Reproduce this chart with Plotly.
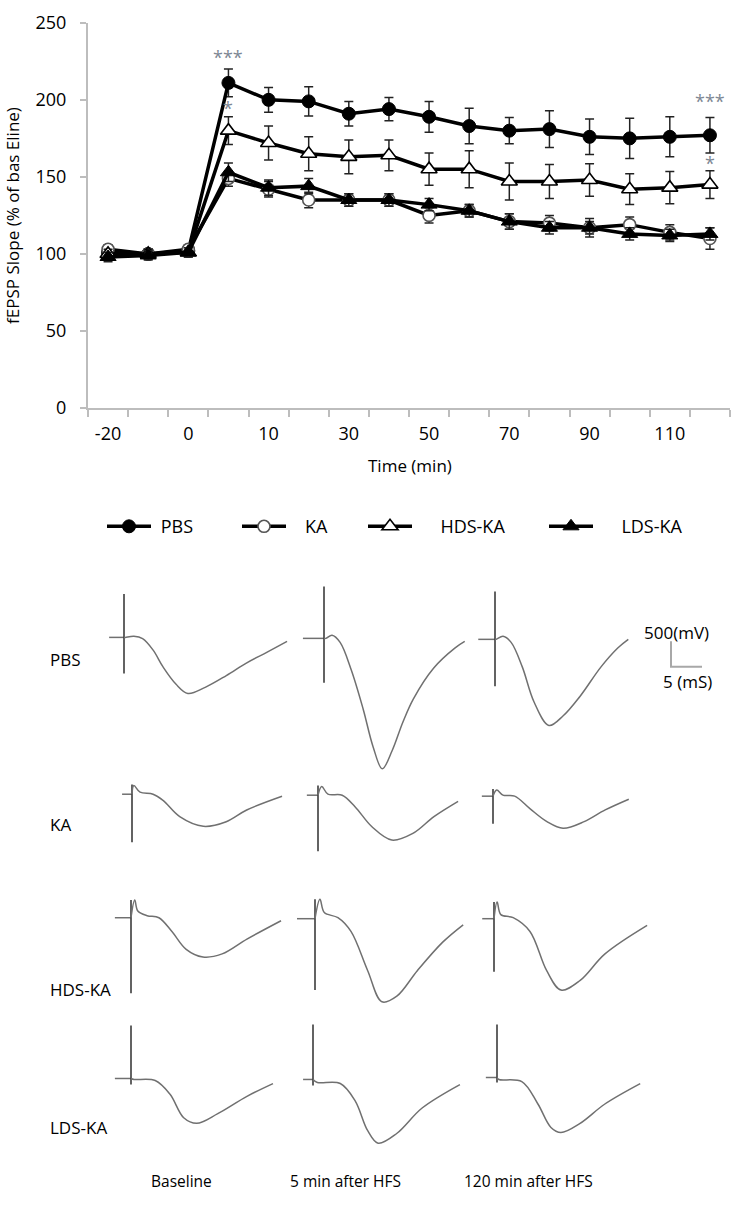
import plotly.graph_objects as go

W, H = 733, 1212
FONT = "Open Sans"

# ---------------- LTP time course (top panel) ----------------
time_labels = ["-20", "-10", "0", "5", "10", "20", "30", "40", "50", "60",
               "70", "80", "90", "100", "110", "120"]
pbs_mean = [101, 100, 102, 211, 200, 199, 191, 194, 189, 183, 180, 181, 176, 175, 176, 177]
pbs_sem = [3, 3, 3, 9, 8, 9.5, 8, 7.5, 10, 11.5, 8.5, 12, 11.5, 13, 13, 11.5]
ka_mean = [103, 100, 103, 149, 142, 135, 135, 135, 125, 128, 121, 120, 117, 119, 114, 110]
ka_sem = [3, 3, 3, 5, 5, 5, 4, 4, 5, 4, 5, 5, 6, 5, 5, 7]
hds_mean = [100, 100, 101, 180, 172, 165, 163, 164, 155, 155, 147, 147, 148, 142, 143, 145]
hds_sem = [3, 3, 3, 9, 11, 11, 11, 10, 10.5, 12, 12, 11, 10.5, 10, 10.5, 9]
lds_mean = [98, 99, 101, 153, 143, 144, 135, 135, 132, 128, 121, 117, 117, 113, 112, 113]
lds_sem = [3, 3, 3, 6, 5, 5, 4, 4, 4, 4, 5, 4, 4, 4, 4, 4]

sig_text = ["***", "*", "***", "*"]
sig_time = ["5", "5", "120", "120"]
sig_value = [228, 195, 199, 159]

y_ticks = [0, 50, 100, 150, 200, 250]

# ---------------- fEPSP sample traces (bottom panel) ----------------
# time after stimulus (ms) and amplitude relative to baseline (mV)
pbs_base_ms = [0.2, 1.6, 3.0, 4.7, 6.3, 8.4, 10.3, 13.1, 16.5, 19.8, 23.1, 26.3]
pbs_base_mv = [0, 20, -25, -250, -580, -920, -1100, -980, -750, -500, -290, -80]
pbs_5_ms = [0.3, 1.3, 2.6, 4.4, 6.3, 7.9, 9.4, 11.0, 12.7, 14.4, 17.7, 21.1, 22.7]
pbs_5_mv = [0, 60, -80, -620, -1380, -2120, -2560, -2200, -1650, -1190, -580, -190, -60]
pbs_120_ms = [0.2, 1.3, 2.6, 4.4, 6.3, 8.7, 11.0, 13.7, 17.1, 19.8, 21.5]
pbs_120_mv = [0, 60, -60, -540, -1230, -1690, -1500, -1120, -540, -170, 0]

ka_base_ms = [0.3, 1.3, 3.4, 5.0, 7.7, 11.5, 15.2, 18.5, 24.2]
ka_base_mv = [170, 40, 0, -120, -440, -630, -540, -310, -40]
ka_5_ms = [0.6, 1.6, 3.9, 6.0, 8.7, 11.9, 15.3, 18.7, 22.6]
ka_5_mv = [170, 20, 0, -230, -620, -880, -750, -420, -120]
ka_120_ms = [0.6, 1.6, 3.5, 6.0, 8.7, 11.3, 14.7, 18.1, 21.9]
ka_120_mv = [120, 20, 0, -250, -500, -630, -500, -270, -60]

hds_base_ms = [0.6, 1.1, 2.6, 4.5, 6.6, 8.9, 11.6, 14.7, 18.7, 24.2]
hds_base_mv = [350, 130, 40, 0, -270, -620, -770, -710, -420, -60]
hds_5_ms = [0.8, 1.5, 3.7, 5.8, 8.5, 10.8, 13.2, 16.5, 20.6, 23.9]
hds_5_mv = [380, 120, 20, -250, -1020, -1630, -1520, -1020, -460, -120]
hds_120_ms = [0.5, 1.1, 3.1, 5.8, 8.5, 10.8, 13.9, 17.9, 24.7]
hds_120_mv = [330, 80, 20, -250, -1020, -1400, -1210, -690, -130]

lds_base_ms = [0.5, 3.9, 6.3, 8.5, 10.6, 14.0, 18.7, 22.9]
lds_base_mv = [-20, -40, -310, -770, -880, -690, -350, -100]
lds_5_ms = [0.7, 4.4, 6.8, 8.8, 10.5, 13.5, 17.6, 23.7]
lds_5_mv = [-60, -80, -420, -1000, -1250, -1060, -560, -100]
lds_120_ms = [0.3, 4.0, 6.6, 8.7, 10.3, 13.4, 17.4, 23.1]
lds_120_mv = [-40, -80, -520, -980, -1080, -900, -520, -120]

# stimulus artifact (top, bottom, mV) and pre-stimulus baseline length (ms)
# order: Baseline, 5 min after HFS, 120 min after HFS
pbs_art_top = [850, 1020, 940]
pbs_art_bottom = [-710, -870, -920]
ka_art_top = [190, 190, 140]
ka_art_bottom = [-940, -1100, -540]
hds_art_top = [350, 380, 330]
hds_art_bottom = [-1480, -1400, -1040]
lds_art_top = [1040, 1080, 1040]
lds_art_bottom = [-120, -120, -100]
pre_stim_ms = {"PBS": [2.4, 3.4, 2.7], "KA": [1.6, 1.8, 1.8],
               "HDS-KA": [2.6, 2.9, 1.9], "LDS-KA": [2.6, 1.6, 1.8]}

column_labels = ["Baseline", "5 min after HFS", "120 min after HFS"]
row_labels = ["PBS", "KA", "HDS-KA", "LDS-KA"]
scale_ms = 5
scale_mv = 500

# ---------------- layout constants (pixels) ----------------
PLOT_L, PLOT_R, PLOT_T, PLOT_B = 88, 730, 10, 403
PX_PER_MS = 6.2      # 5 ms  = 31 px
PX_PER_MV = 0.052    # 500 mV = 26 px

stim_px = {"PBS": [124, 324, 495], "KA": [132, 318, 493],
           "HDS-KA": [131, 315, 494], "LDS-KA": [131, 313, 497]}
base_px = {"PBS": [637, 638, 639], "KA": [797, 798, 799],
           "HDS-KA": [923, 924, 924], "LDS-KA": [1087, 1088, 1086]}
scale_corner_px = (671, 667)


def px_x(p):
    return p / W


def px_y(p):
    return 1 - p / H


fig = go.Figure()

x_idx = list(range(len(time_labels)))
legend_pad = [1, 3, 5, 5]   # leading spaces between legend symbol and text
series = [
    ("PBS", pbs_mean, pbs_sem, dict(symbol="circle", size=13, color="black",
                                    line=dict(color="black", width=1)), "legend"),
    ("KA", ka_mean, ka_sem, dict(symbol="circle", size=12, color="white",
                                 line=dict(color="#555555", width=1.6)), "legend2"),
    ("HDS-KA", hds_mean, hds_sem, dict(symbol="triangle-up", size=14, color="white",
                                       line=dict(color="black", width=1.6)), "legend3"),
    ("LDS-KA", lds_mean, lds_sem, dict(symbol="triangle-up", size=14, color="black",
                                       line=dict(color="black", width=1)), "legend4"),
]
for (name, mean, sem, marker, leg), pad in zip(series, legend_pad):
    fig.add_trace(go.Scatter(
        x=x_idx, y=mean, name="\u00a0" * pad + name, mode="lines+markers",
        line=dict(color="black", width=3.5), marker=marker,
        error_y=dict(type="data", array=sem, visible=True, color="#222222",
                     thickness=1.5, width=4.5),
        legend=leg, xaxis="x", yaxis="y"))

for txt, t, v in zip(sig_text, sig_time, sig_value):
    fig.add_annotation(x=time_labels.index(t), y=v, xref="x", yref="y", text=txt,
                       showarrow=False, font=dict(family=FONT, size=18, color="#7d8794"))

# ---------------- sample traces ----------------
trace_data = {
    "PBS": [(pbs_base_ms, pbs_base_mv), (pbs_5_ms, pbs_5_mv), (pbs_120_ms, pbs_120_mv)],
    "KA": [(ka_base_ms, ka_base_mv), (ka_5_ms, ka_5_mv), (ka_120_ms, ka_120_mv)],
    "HDS-KA": [(hds_base_ms, hds_base_mv), (hds_5_ms, hds_5_mv), (hds_120_ms, hds_120_mv)],
    "LDS-KA": [(lds_base_ms, lds_base_mv), (lds_5_ms, lds_5_mv), (lds_120_ms, lds_120_mv)],
}
artifacts = {
    "PBS": (pbs_art_top, pbs_art_bottom), "KA": (ka_art_top, ka_art_bottom),
    "HDS-KA": (hds_art_top, hds_art_bottom), "LDS-KA": (lds_art_top, lds_art_bottom),
}
for grp in row_labels:
    for c in range(3):
        t0 = stim_px[grp][c] / PX_PER_MS
        v0 = (H - base_px[grp][c]) / PX_PER_MV
        ms, mv = trace_data[grp][c]
        pre = pre_stim_ms[grp][c]
        top, bot = artifacts[grp][0][c], artifacts[grp][1][c]
        common = dict(xaxis="x2", yaxis="y2", showlegend=False, hoverinfo="skip")
        fig.add_trace(go.Scatter(x=[t0 - pre, t0], y=[v0, v0], mode="lines",
                                 line=dict(color="#707070", width=1.5), **common))
        fig.add_trace(go.Scatter(x=[t0, t0], y=[v0 + top, v0 + bot], mode="lines",
                                 line=dict(color="#3c3c3c", width=1.6), **common))
        fig.add_trace(go.Scatter(x=[t0] + [t0 + m for m in ms],
                                 y=[v0] + [v0 + a for a in mv], mode="lines",
                                 line=dict(color="#707070", width=1.5, shape="spline",
                                           smoothing=1.0), **common))

# scale bar
sx = scale_corner_px[0] / PX_PER_MS
sy = (H - scale_corner_px[1]) / PX_PER_MV
fig.add_trace(go.Scatter(x=[sx, sx, sx + scale_ms], y=[sy + scale_mv, sy, sy], mode="lines",
                         line=dict(color="#a8a8a8", width=2), xaxis="x2", yaxis="y2",
                         showlegend=False, hoverinfo="skip"))

annotations_px = [
    (f"{scale_mv}(mV)", 676, 632, "center", 17),
    (f"{scale_ms} (mS)", 687, 682, "center", 17),
    ("Time (min)", 410, 462, "center", 17),
]
for txt, x, y, anchor, size in annotations_px:
    fig.add_annotation(x=px_x(x), y=px_y(y), xref="paper", yref="paper", text=txt,
                       showarrow=False, xanchor=anchor, yanchor="middle",
                       font=dict(family=FONT, size=size, color="black"))

row_label_y = [660, 828, 996, 1137]
for lab, y in zip(row_labels, row_label_y):
    fig.add_annotation(x=px_x(48), y=px_y(y), xref="paper", yref="paper", text=lab,
                       showarrow=False, xanchor="left", yanchor="middle",
                       font=dict(family=FONT, size=17, color="black"))

col_label_x = [181, 345, 528]
for lab, x in zip(column_labels, col_label_x):
    fig.add_annotation(x=px_x(x), y=px_y(1192), xref="paper", yref="paper", text=lab,
                       showarrow=False, xanchor="center", yanchor="middle",
                       font=dict(family=FONT, size=15.5, color="black"))

fig.add_annotation(x=px_x(13), y=px_y(207), xref="paper", yref="paper",
                   text="fEPSP Slope (% of bas Eline)", textangle=-90, showarrow=False,
                   xanchor="center", yanchor="middle",
                   font=dict(family=FONT, size=17, color="black"))

axis_col = "#bdbdbd"
legend_x_px = [102, 237, 363, 544]
legend_common = dict(orientation="h", yanchor="middle", xanchor="left",
                     y=px_y(524), bgcolor="rgba(0,0,0,0)", itemwidth=44,
                     font=dict(family=FONT, size=18, color="black"))

fig.update_layout(
    width=W, height=H, margin=dict(l=0, r=0, t=0, b=0),
    paper_bgcolor="white", plot_bgcolor="rgba(0,0,0,0)",
    xaxis=dict(domain=[px_x(PLOT_L), px_x(PLOT_R)], range=[-0.5, len(time_labels) - 0.5],
               tickmode="array", tickvals=x_idx[::2], ticktext=time_labels[::2],
               ticks="", showline=True, linecolor=axis_col, linewidth=2,
               showgrid=False, zeroline=False, ticklabelstandoff=8,
               ticklabeloverflow="allow",
               tickfont=dict(family=FONT, size=18, color="black"),
               minor=dict(tickmode="array",
                          tickvals=[i - 0.5 for i in range(len(time_labels) + 1)],
                          ticks="outside", ticklen=7, tickwidth=1.5, tickcolor=axis_col),
               anchor="y", fixedrange=True),
    yaxis=dict(domain=[px_y(PLOT_B), px_y(PLOT_T)], range=[0, 250], tickvals=y_ticks,
               ticks="outside", ticklen=6, tickwidth=1.5, tickcolor=axis_col,
               showline=True, linecolor=axis_col, linewidth=2, showgrid=False,
               zeroline=False, ticklabelstandoff=10, ticklabeloverflow="allow",
               tickfont=dict(family=FONT, size=18, color="black"),
               anchor="x", fixedrange=True),
    xaxis2=dict(domain=[0, 1], range=[0, W / PX_PER_MS], visible=False, anchor="y2",
                fixedrange=True),
    yaxis2=dict(domain=[0, 1], range=[0, H / PX_PER_MV], visible=False, anchor="x2",
                fixedrange=True),
    legend=dict(x=px_x(legend_x_px[0]), **legend_common),
    legend2=dict(x=px_x(legend_x_px[1]), **legend_common),
    legend3=dict(x=px_x(legend_x_px[2]), **legend_common),
    legend4=dict(x=px_x(legend_x_px[3]), **legend_common),
)

fig.write_html("out.html", config={"displayModeBar": False},
               post_script="document.body.style.margin='0';"
                           "document.body.style.overflow='hidden';")
